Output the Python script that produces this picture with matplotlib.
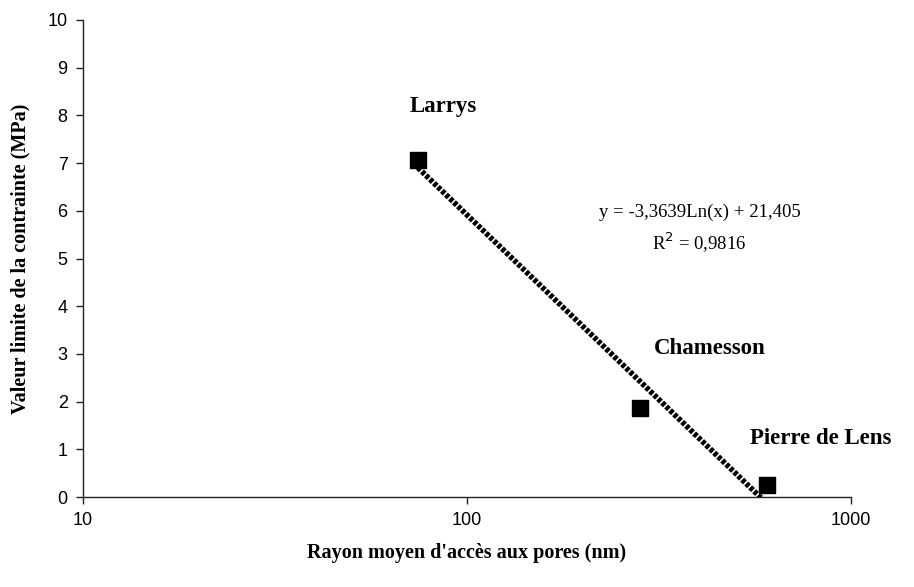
import numpy as np
import matplotlib.pyplot as plt

# data
sites = ["Larrys", "Chamesson", "Pierre de Lens"]
rayon = [74.5, 282, 604]          # nm
contrainte = [7.07, 1.87, 0.25]   # MPa

# logarithmic trend line y = a*ln(x) + b
a_coef = -3.3639
b_coef = 21.405
r2 = 0.9816

serif = "Liberation Serif"
sans = "Liberation Sans"

fig = plt.figure(figsize=(9.14, 5.87), dpi=100)
ax = fig.add_axes([83 / 914, 1 - 497 / 587, (851 - 83) / 914, (497 - 20) / 587])

xt = np.linspace(rayon[0], rayon[-1], 400)
yt = a_coef * np.log(xt) + b_coef
ax.plot(xt, yt, color="black", lw=4, linestyle=(0, (0.7, 0.3)), zorder=2)

ax.scatter(rayon, contrainte, marker="s", s=125, color="black", zorder=3)

ax.set_xscale("log")
ax.set_xlim(10, 1000)
ax.set_ylim(0, 10)
ax.set_yticks(range(0, 11))
ax.set_xticks([10, 100, 1000])
ax.set_xticklabels(["10", "100", "1000"])
ax.minorticks_off()

for s in ["top", "right"]:
    ax.spines[s].set_visible(False)
for s in ["left", "bottom"]:
    ax.spines[s].set_linewidth(1.0)
    ax.spines[s].set_color("#222222")

ax.tick_params(direction="out", length=5, width=1, color="#222222", labelsize=13, pad=6)
for lab in ax.get_xticklabels() + ax.get_yticklabels():
    lab.set_fontfamily(sans)

ax.set_xlabel("Rayon moyen d'accès aux pores (nm)", fontfamily=serif,
              fontweight="bold", fontsize=14.5, labelpad=10)
ax.set_ylabel("Valeur limite de la contrainte (MPa)", fontfamily=serif,
              fontweight="bold", fontsize=14.5, labelpad=12)

# point labels
offsets = [(-6, 31), (10, 35), (-12, 26)]
for name, x, y, (dx, dy) in zip(sites, rayon, contrainte, offsets):
    ax.annotate(name, (x, y), xytext=(dx, dy), textcoords="offset points",
                fontfamily=serif, fontweight="bold", fontsize=16.5,
                ha="left", va="bottom", annotation_clip=False)

eq = "y = -3,3639Ln(x) + 21,405"
ax.text(0.803, 0.596, eq, transform=ax.transAxes, ha="center", va="center",
        fontfamily=serif, fontsize=13.5)
ax.text(0.803, 0.532, "R$^2$ = 0,9816", transform=ax.transAxes, ha="center",
        va="center", fontfamily=serif, fontsize=13.5)

fig.savefig("out.png", dpi=100)
